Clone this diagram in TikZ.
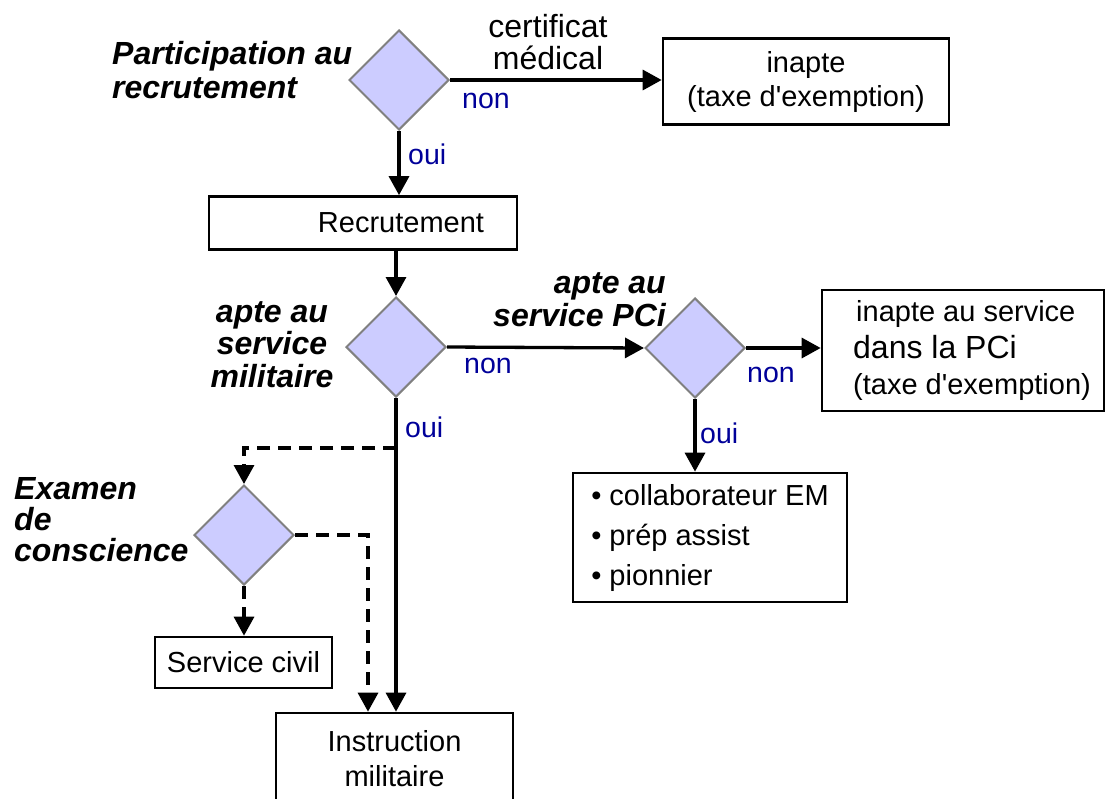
\documentclass[tikz,border=0pt]{standalone}
\usepackage{fontspec}
\setmainfont{Liberation Sans}[Ligatures=TeXOff]
\usetikzlibrary{shapes.geometric,arrows.meta,calc}
\definecolor{dfill}{HTML}{CCCCFF}
\definecolor{dline}{HTML}{808080}
\definecolor{lblue}{HTML}{000099}
\begin{document}
\begin{tikzpicture}[x=1pt,y=1pt,
  dec/.style={diamond, aspect=1, minimum width=100pt, minimum height=100pt, inner sep=0pt, fill=dfill, draw=dline, line width=2pt},
  box/.style={draw=black, line width=2.7pt, inner sep=0pt, font=\fontsize{29}{34}\selectfont, align=center},
  qlab/.style={font=\fontsize{32}{32.5}\selectfont\bfseries\itshape, inner sep=0pt},
  yn/.style={font=\fontsize{28.5}{30}\selectfont, text=lblue, inner sep=0pt, anchor=base west},
  conn/.style={line width=3.3pt, -{Triangle[length=19pt,width=20pt]}},
  dconn/.style={conn, dash pattern=on 13pt off 8pt},
]
\useasboundingbox (0,0) rectangle (1107,-798);

% decisions
\node[dec] (d1) at (399,-80) {};
\node[dec] (d2) at (396,-347) {};
\node[dec] (d3) at (695,-348) {};
\node[dec] (d4) at (244,-535) {};

% boxes
\node[box, minimum width=286pt, minimum height=86pt] (ina) at (806,-81.5) {inapte\\(taxe d'exemption)};
\node[box, minimum width=308pt, minimum height=53pt] (rec) at (363,-223) {\hspace*{76pt}Recrutement};
\node[box, minimum width=282pt, minimum height=121pt, align=left, font=\fontsize{29}{36.5}\selectfont] (b3) at (963,-350.5)
  {\hspace*{21pt}inapte au service\\\hspace*{18pt}{\fontsize{32}{36.5}\selectfont dans la PCi}\\\hspace*{18pt}(taxe d'exemption)};
\node[box, minimum width=274pt, minimum height=129pt, align=left, font=\fontsize{29}{40}\selectfont] (b4) at (710,-537.5)
  {\textbullet\ collaborateur EM\\\textbullet\ prép assist\\\textbullet\ pionnier};
\node[box, minimum width=177pt, minimum height=51pt] (sc) at (243.5,-662.5) {Service civil};
\node[box, minimum width=237pt, minimum height=92pt, font=\fontsize{29}{35}\selectfont] (ins) at (394.5,-759) {Instruction\\militaire};

% question labels
\node[qlab, anchor=west, align=left, font=\fontsize{32}{34}\selectfont\bfseries\itshape] (q1) at (112,-70.5) {Participation au\\recrutement};
\node[qlab, align=center] (q2) at (272,-344.5) {apte au\\service\\militaire};
\node[qlab, anchor=east, align=right] (q3) at (666,-299.5) {apte au\\service PCi};
\node[qlab, anchor=west, align=left, font=\fontsize{32}{31}\selectfont\bfseries\itshape] (q4) at (14,-520) {Examen\\de\\conscience};
\node[font=\fontsize{32}{32}\selectfont, align=center, inner sep=0pt] (cm) at (548,-42) {certificat\\médical};

% yes/no labels
\node[yn] (n1) at (462,-108) {non};
\node[yn] (o1) at (408,-164) {oui};
\node[yn] (n2) at (464,-373) {non};
\node[yn] (o2) at (405,-437) {oui};
\node[yn] (n3) at (747,-382) {non};
\node[yn] (o3) at (700,-443) {oui};

% connectors
\draw[conn] (d1.east) -- (d1.east -| ina.west);
\draw[conn] (d1.south) -- (d1.south |- rec.north);
\draw[conn] (d2.north |- rec.south) -- (d2.north);
\draw[conn] (d2.east) -- (d3.west);
\draw[conn] (d3.east) -- (d3.east -| b3.west);
\draw[conn] (d3.south) -- (d3.south |- b4.north);
\draw[conn] (d2.south) -- (d2.south |- ins.north);
\coordinate (j1) at ($(d2.south)+(0,-50)$);
\coordinate (k1) at ($(ins.north)+(-26.5,0)$);
\draw[dconn] (j1) -| (d4.north);
\draw[dconn] (d4.east) -| (k1);
\draw[dconn] (d4.south) -- (d4.south |- sc.north);
\end{tikzpicture}
\end{document}
